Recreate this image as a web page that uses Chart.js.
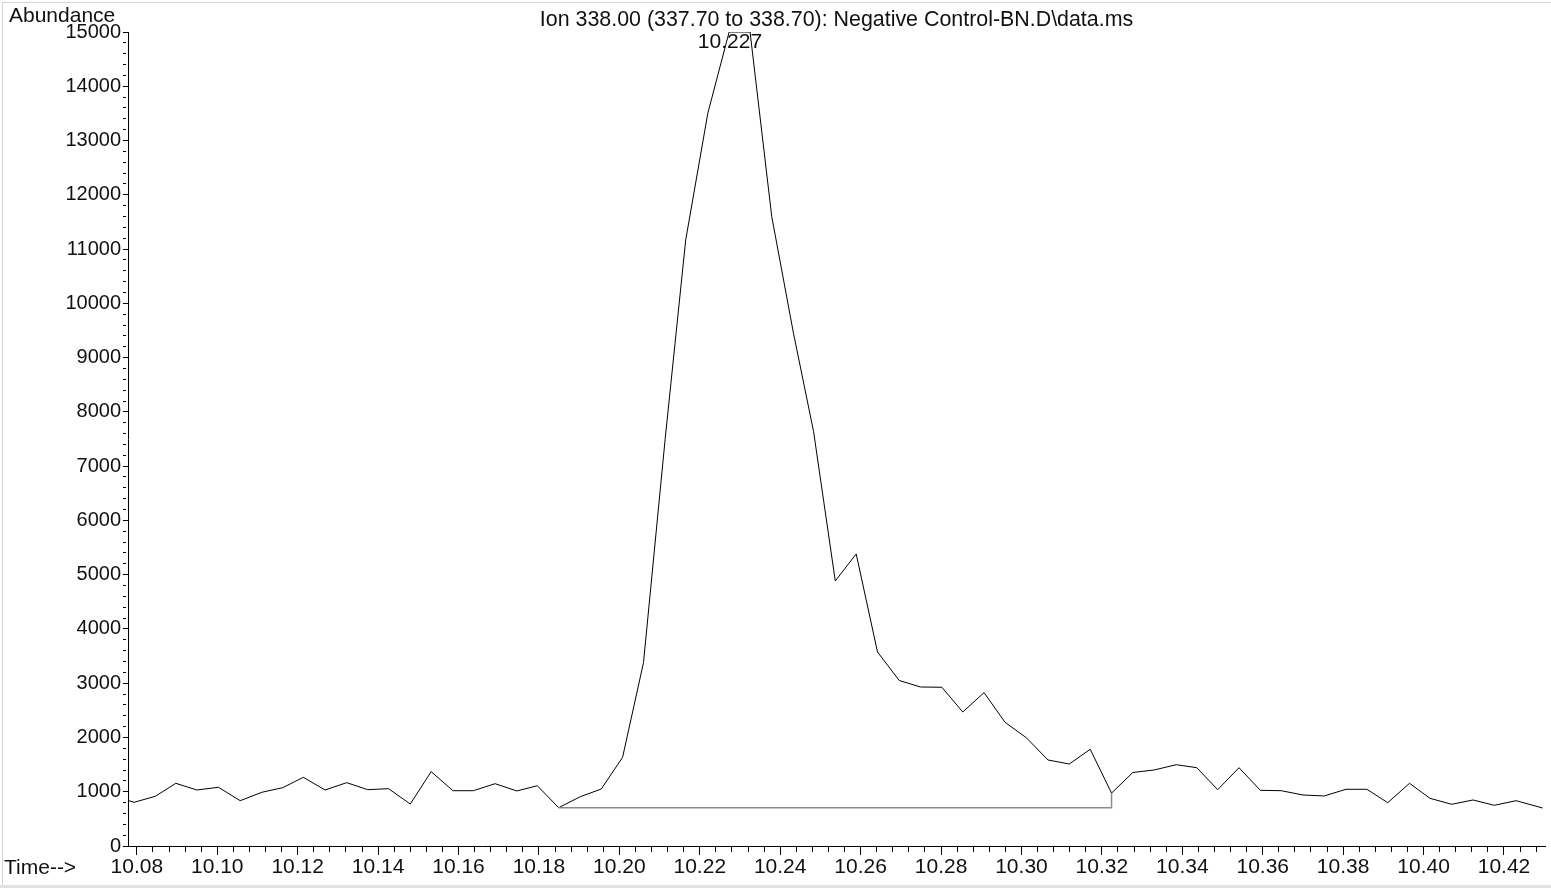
<!DOCTYPE html>
<html>
<head>
<meta charset="utf-8">
<script src="https://cdn.jsdelivr.net/npm/chart.js@4.4.1/dist/chart.umd.min.js"></script>
<style>
  html, body { margin: 0; padding: 0; background: #fff; }
  canvas { display: block; }
</style>
</head>
<body>
<canvas id="ion" width="1551" height="888"></canvas>
<script>
// ============================================================
// Data
// ============================================================

const titleText = 'Ion 338.00 (337.70 to 338.70): Negative Control-BN.D\\data.ms';

// retention time (min)
const times = [
  10.0740, 10.0793, 10.0846, 10.0897, 10.0949, 10.1003, 10.1057, 10.1111, 10.1163, 10.1214,
  10.1268, 10.1322, 10.1374, 10.1426, 10.1480, 10.1532, 10.1586, 10.1637, 10.1691, 10.1745,
  10.1796, 10.1849, 10.1903, 10.1955, 10.2008, 10.2060, 10.2114, 10.2165, 10.2220, 10.2273,
  10.2325, 10.2379, 10.2433, 10.2483, 10.2537, 10.2589, 10.2642, 10.2696, 10.2749, 10.2802,
  10.2854, 10.2907, 10.2959, 10.3012, 10.3066, 10.3119, 10.3171, 10.3224, 10.3277, 10.3330,
  10.3385, 10.3436, 10.3488, 10.3541, 10.3594, 10.3646, 10.3700, 10.3753, 10.3807, 10.3859,
  10.3911, 10.3965, 10.4016, 10.4070, 10.4123, 10.4176, 10.4230, 10.4296
];

// abundance at each time
const abundance = [
  930, 805, 916, 1155, 1032, 1082, 835, 990, 1075, 1266,
  1032, 1167, 1038, 1056, 774, 1370, 1019, 1019, 1148, 1014,
  1111, 706, 909, 1050, 1634, 3378, 7510, 11168, 13503, 15000,
  15000, 11598, 9449, 7636, 4884, 5382, 3575, 3050, 2930, 2925,
  2470, 2826, 2280, 1996, 1585, 1511, 1782, 975, 1355, 1401,
  1498, 1443, 1038, 1443, 1026, 1019, 940, 922, 1045, 1045,
  798, 1155, 879, 768, 848, 750, 835, 700
];

// integration baseline
const baseTimes = [10.1849, 10.3224, 10.3224];
const baseValues = [706, 706, 975];

// peak apex label
const peakTimes = [10.2275];
const peakLabels = ['10.227'];

// axes
const xMin = 10.0778, xMax = 10.4302;
const yMin = 0, yMax = 15000;

// ============================================================
// Ticks: minor every 0.004 min / 200 counts, labelled every 5th
// ============================================================

const FONT_FAMILY = "'Liberation Sans', Arial, Helvetica, sans-serif";
const TEXT = '#111';

const xTickValues = [];
for (let k = Math.ceil(xMin / 0.004 - 1e-9); k * 0.004 <= xMax + 1e-9; k++) xTickValues.push(k);
const yTickValues = [];
for (let v = yMin; v <= yMax; v += 200) yTickValues.push(v);

const isXMajor = v => Math.round(v * 1000) % 20 === 0;
const isYMajor = v => v % 1000 === 0;

// ============================================================
// Text / frame plugin
// ============================================================

const msText = {
  id: 'msText',
  beforeDraw(chart) {
    const { ctx, width, height } = chart;
    ctx.save();
    ctx.fillStyle = '#fff';
    ctx.fillRect(0, 0, width, height);
    ctx.strokeStyle = '#d4d4d4';
    ctx.lineWidth = 1;
    ctx.beginPath();
    ctx.moveTo(2.5, height - 3);
    ctx.lineTo(2.5, 2.5);
    ctx.lineTo(width, 2.5);
    ctx.stroke();
    ctx.fillStyle = '#e2e2e2';
    ctx.fillRect(0, height - 3, width, 3);
    ctx.restore();
  },
  afterDraw(chart) {
    const { ctx, chartArea } = chart;
    const xs = chart.scales.x;
    ctx.save();
    ctx.fillStyle = TEXT;
    ctx.textBaseline = 'alphabetic';
    ctx.textAlign = 'left';
    ctx.font = '21px ' + FONT_FAMILY;
    ctx.fillText('Abundance', 9, 22);
    ctx.fillText('Time-->', 4, 874);
    ctx.textAlign = 'center';
    ctx.font = '21.4px ' + FONT_FAMILY;
    ctx.fillText(titleText, (chartArea.left + chartArea.right) / 2, 26);
    ctx.font = '21px ' + FONT_FAMILY;
    peakTimes.forEach((t, i) => ctx.fillText(peakLabels[i], xs.getPixelForValue(t), 48));
    ctx.restore();
  }
};

// ============================================================
// Chart
// ============================================================

new Chart(document.getElementById('ion'), {
  type: 'line',
  data: {
    datasets: [
      {
        label: 'baseline',
        data: baseTimes.map((t, i) => ({ x: t, y: baseValues[i] })),
        borderColor: '#8c8c8c',
        borderWidth: 1.5,
        pointRadius: 0,
        tension: 0
      },
      {
        label: 'Ion 338.00',
        data: times.map((t, i) => ({ x: t, y: abundance[i] })),
        borderColor: '#000',
        borderWidth: 1,
        pointRadius: 0,
        tension: 0
      }
    ]
  },
  options: {
    responsive: false,
    animation: false,
    devicePixelRatio: 1,
    layout: { padding: { left: 0, right: 6, top: 32, bottom: 0 } },
    plugins: { legend: { display: false }, tooltip: { enabled: false } },
    scales: {
      x: {
        type: 'linear',
        min: xMin,
        max: xMax,
        afterFit: s => { s.height = 42; },
        afterBuildTicks: s => { s.ticks = xTickValues.map(k => ({ value: +(k * 0.004).toFixed(3) })); },
        grid: {
          drawOnChartArea: false,
          tickLength: 9,
          tickColor: '#000',
          tickWidth: 1,
          tickBorderDash: c => (c.tick && isXMajor(c.tick.value)) ? [] : [5, 30]
        },
        border: { display: true, color: '#000', width: 1 },
        ticks: {
          autoSkip: false,
          maxRotation: 0,
          padding: 0,
          color: TEXT,
          font: { family: FONT_FAMILY, size: 21 },
          callback: v => isXMajor(v) ? v.toFixed(2) : ''
        }
      },
      y: {
        type: 'linear',
        min: yMin,
        max: yMax,
        afterFit: s => { s.width = 128; },
        afterBuildTicks: s => { s.ticks = yTickValues.map(v => ({ value: v })); },
        grid: {
          drawOnChartArea: false,
          tickLength: 5,
          tickColor: '#000',
          tickWidth: 1,
          tickBorderDash: c => (c.tick && isYMajor(c.tick.value)) ? [] : [3, 30]
        },
        border: { display: true, color: '#000', width: 1 },
        ticks: {
          autoSkip: false,
          padding: 2,
          color: TEXT,
          font: { family: FONT_FAMILY, size: 20 },
          callback: v => isYMajor(v) ? String(v) : ''
        }
      }
    }
  },
  plugins: [msText]
});
</script>
</body>
</html>
